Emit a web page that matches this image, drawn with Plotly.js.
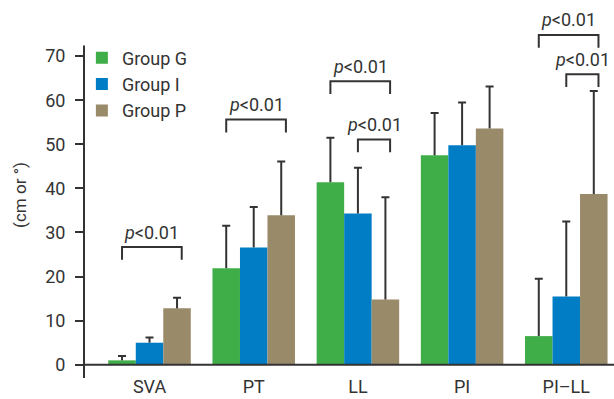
<!DOCTYPE html>
<html>
<head>
<meta charset="utf-8">
<script src="https://cdn.plot.ly/plotly-3.0.1.min.js"></script>
<style>html,body{margin:0;padding:0;background:#fff;}#chart{width:614px;height:399px;}</style>
</head>
<body>
<div id="chart"></div>
<script>
// ---- data ----
var categories = ["SVA", "PT", "LL", "PI", "PI\u2013LL"];
var groupNames = ["Group G", "Group I", "Group P"];
var groupG = [1.0, 21.9, 41.4, 47.5, 6.5];
var groupGsd = [1.0, 9.6, 10.1, 9.6, 13.0];
var groupI = [5.0, 26.6, 34.3, 49.8, 15.5];
var groupIsd = [1.2, 9.2, 10.4, 9.7, 17.0];
var groupP = [12.8, 33.9, 14.8, 53.6, 38.7];
var groupPsd = [2.4, 12.2, 23.2, 9.5, 23.4];
var yTicks = [0, 10, 20, 30, 40, 50, 60, 70];
// significance comparisons: category index, from-group index, to-group index, label
var sigCategory = [0, 1, 2, 2, 4, 4];
var sigFrom = [0, 0, 0, 1, 0, 1];
var sigTo = [2, 2, 2, 2, 2, 2];
var sigLabel = ["<i>p</i>&lt;0.01", "<i>p</i>&lt;0.01", "<i>p</i>&lt;0.01", "<i>p</i>&lt;0.01", "<i>p</i>&lt;0.01", "<i>p</i>&lt;0.01"];

// ---- styles / layout ----
var colors = ["#3fae49", "#007dc4", "#998a6a"];
var ink = "#333333";
var FONT = "Roboto, 'Liberation Sans', Arial, sans-serif";
var bracketLevel = [26.7, 55.6, 64.3, 51.1, 74.8, 65.9]; // bracket heights (y units)
var bracketLeg = 2.9;
var bargap = 0.208;
var barW = (1 - bargap) / 3;

var series = [groupG, groupI, groupP];
var sds = [groupGsd, groupIsd, groupPsd];
var groupsKey = ["g", "i", "p"];
var traces = [];
series.forEach(function (vals, k) {
  // bars with the upward error stem (no caps)
  traces.push({
    type: "bar",
    name: groupNames[k],
    x: categories,
    y: vals,
    offsetgroup: groupsKey[k],
    marker: {color: colors[k], line: {width: 0}},
    error_y: {
      type: "data", symmetric: false,
      array: sds[k], arrayminus: vals.map(function () { return 0; }),
      color: ink, thickness: 2, width: 0
    },
    hoverinfo: "none"
  });
});
series.forEach(function (vals, k) {
  // invisible companion bars carrying only the cap at mean + SD
  traces.push({
    type: "bar",
    name: groupNames[k] + " cap",
    showlegend: false,
    x: categories,
    y: vals.map(function (v, j) { return v + sds[k][j]; }),
    offsetgroup: groupsKey[k],
    marker: {color: "rgba(0,0,0,0)", line: {width: 0}},
    error_y: {type: "data", symmetric: true, array: vals.map(function () { return 0; }),
      color: ink, thickness: 2, width: 4},
    hoverinfo: "none"
  });
});

var shapes = [];
var annotations = [];
// axis lines
shapes.push({type: "line", xref: "paper", yref: "y", x0: 0, x1: 0, y0: -3, y1: 72.4,
  line: {color: ink, width: 2}});
shapes.push({type: "line", xref: "paper", yref: "y", x0: 0, x1: 1, y0: 0, y1: 0,
  line: {color: ink, width: 2}});

for (var i = 0; i < sigCategory.length; i++) {
  var c = sigCategory[i];
  var xa = c + (sigFrom[i] - 1) * barW;
  var xb = c + (sigTo[i] - 1) * barW + 0.045;
  var yt = bracketLevel[i];
  shapes.push({type: "path", xref: "x", yref: "y",
    path: "M" + xa + "," + (yt - bracketLeg) + " L" + xa + "," + yt + " L" + xb + "," + yt + " L" + xb + "," + (yt - bracketLeg),
    line: {color: ink, width: 2}});
  annotations.push({xref: "x", yref: "y", x: (xa + xb) / 2, y: yt + 3.4, text: sigLabel[i],
    showarrow: false, xanchor: "center", yanchor: "middle",
    font: {family: FONT, size: 18, color: ink}});
}

var layout = {
  width: 614, height: 399,
  margin: {l: 84, r: 0, t: 12, b: 21},
  paper_bgcolor: "#fff", plot_bgcolor: "#fff",
  font: {family: FONT, size: 18, color: ink},
  barmode: "group", bargap: bargap, bargroupgap: 0,
  showlegend: true,
  legend: {x: -0.004, y: 0.925, xanchor: "left", yanchor: "top", bgcolor: "rgba(0,0,0,0)",
    font: {family: FONT, size: 18, color: ink}, tracegroupgap: 0, itemwidth: 30},
  xaxis: {type: "category", range: [-0.629, 4.458], showline: false, zeroline: false,
    showgrid: false, ticks: "", ticklabelstandoff: -4,
    tickfont: {family: FONT, size: 18, color: ink}, fixedrange: true},
  yaxis: {range: [-3, 80], tickvals: yTicks, ticktext: yTicks.map(String), showline: false,
    zeroline: false, showgrid: false, ticks: "outside", ticklen: 8, tickwidth: 2, tickcolor: ink,
    ticklabelstandoff: 6,
    tickfont: {family: FONT, size: 18, color: ink},
    title: {text: "(cm or \u00b0)", font: {family: FONT, size: 17, color: ink}, standoff: 14},
    fixedrange: true},
  shapes: shapes,
  annotations: annotations
};

Plotly.newPlot("chart", traces, layout, {displayModeBar: false, staticPlot: true});
</script>
</body>
</html>
